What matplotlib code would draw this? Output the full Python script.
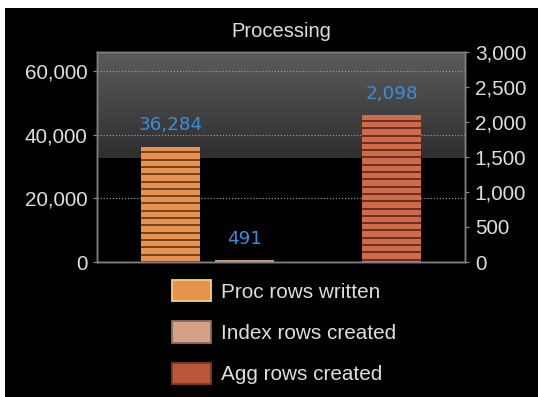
import numpy as np
import matplotlib
matplotlib.use("Agg")
import matplotlib.pyplot as plt
from matplotlib.patches import Patch, Rectangle
from matplotlib.colors import LinearSegmentedColormap

# data
series = ["Proc rows written", "Index rows created", "Agg rows created"]
values = [36284, 491, 2098]
positions = [1, 2, 4]
left_ticks = [0, 20000, 40000, 60000]
right_ticks = [0, 500, 1000, 1500, 2000, 2500, 3000]

face = ["#E69250", "#C8967A", "#D06a4c"]
stripe = ["#5a3014", "#6a4a38", "#4e2214"]
legend_face = ["#E8924C", "#D4A088", "#B9573A"]
legend_edge = ["#EAD27C", "#8a6a58", "#7a3a26"]

plt.rcParams["font.family"] = ["Liberation Sans", "DejaVu Sans"]

DPI = 88
fig = plt.figure(figsize=(538 / DPI, 397 / DPI), dpi=DPI, facecolor="white")
# black panel with thin white margin at top/left
fig.patches.append(Rectangle((5 / 538, 0), 1, 1 - 8 / 397, transform=fig.transFigure,
                             facecolor="black", edgecolor="none", zorder=-10))

ax = fig.add_axes([97 / 538, 1 - 262 / 397, 368 / 538, 210 / 397])
ax.set_facecolor("black")
ax2 = ax.twinx()
ax2.patch.set_visible(False)

# glossy gradient on the upper half
grad = np.linspace(0, 1, 100).reshape(-1, 1)
cmap = LinearSegmentedColormap.from_list("g", ["#2e2e2e", "#5c5c5c"])
ax.imshow(grad, cmap=cmap, origin="lower", aspect="auto",
          extent=[0, 1, 0.495, 1], transform=ax.transAxes, zorder=0)

b1 = ax.bar(positions[0], values[0], width=0.8, color=face[0], linewidth=0, zorder=3)
b2 = ax.bar(positions[1], values[1], width=0.8, color=face[1], linewidth=0, zorder=3)
b3 = ax2.bar(positions[2], values[2], width=0.8, color=face[2], linewidth=0, zorder=3)

ax.set_xlim(0, 5)
ax.set_ylim(0, 66000)
ax2.set_ylim(0, 3000)

# horizontal stripes across the tall bars, about 7 px apart
for a, bars, col, ymax in [(ax, b1, stripe[0], 66000), (ax2, b3, stripe[2], 3000)]:
    step = ymax * 7.3 / 210
    for r in bars:
        h = r.get_height()
        ys = h - np.arange(step * 0.8, h, step)
        a.hlines(ys, r.get_x(), r.get_x() + r.get_width(), colors=col,
                 linewidth=1.5, alpha=0.85, zorder=4)

lab_col = "#3a8fd8"
for a, b, v in [(ax, b1, values[0]), (ax, b2, values[1]), (ax2, b3, values[2])]:
    a.bar_label(b, labels=[f"{v:,}"], padding=10, color=lab_col, fontsize=15,
                family="DejaVu Sans")

ax.set_xticks([])
ax.set_yticks(left_ticks)
ax.set_yticklabels([f"{t:,}" for t in left_ticks])
ax2.set_yticks(right_ticks)
ax2.set_yticklabels([f"{t:,}" for t in right_ticks])

ax.grid(axis="y", color="#9a9a9a", linestyle=(0, (1, 1.5)), linewidth=1.0, zorder=1)
ax.set_axisbelow(True)

txt = "#dedede"
for a in (ax, ax2):
    a.tick_params(axis="y", colors="#8a8a8a", labelcolor=txt, labelsize=17,
                  length=3, width=1, pad=5)
    for s in a.spines.values():
        s.set_color("#808080")
        s.set_linewidth(1.2)

ax.set_title("Processing", color=txt, fontsize=16.5, pad=12)

handles = [Patch(facecolor=legend_face[i], edgecolor=legend_edge[i], linewidth=1.5,
                 label=series[i]) for i in range(3)]
leg = fig.legend(handles=handles, loc="upper left", bbox_to_anchor=(172 / 538, 1 - 280 / 397),
                 frameon=False, fontsize=17, labelcolor=txt, handlelength=1.9,
                 handleheight=1.2, handletextpad=0.45, labelspacing=0.95, borderpad=0,
                 borderaxespad=0)

fig.savefig("out.png", dpi=DPI, facecolor=fig.get_facecolor())
